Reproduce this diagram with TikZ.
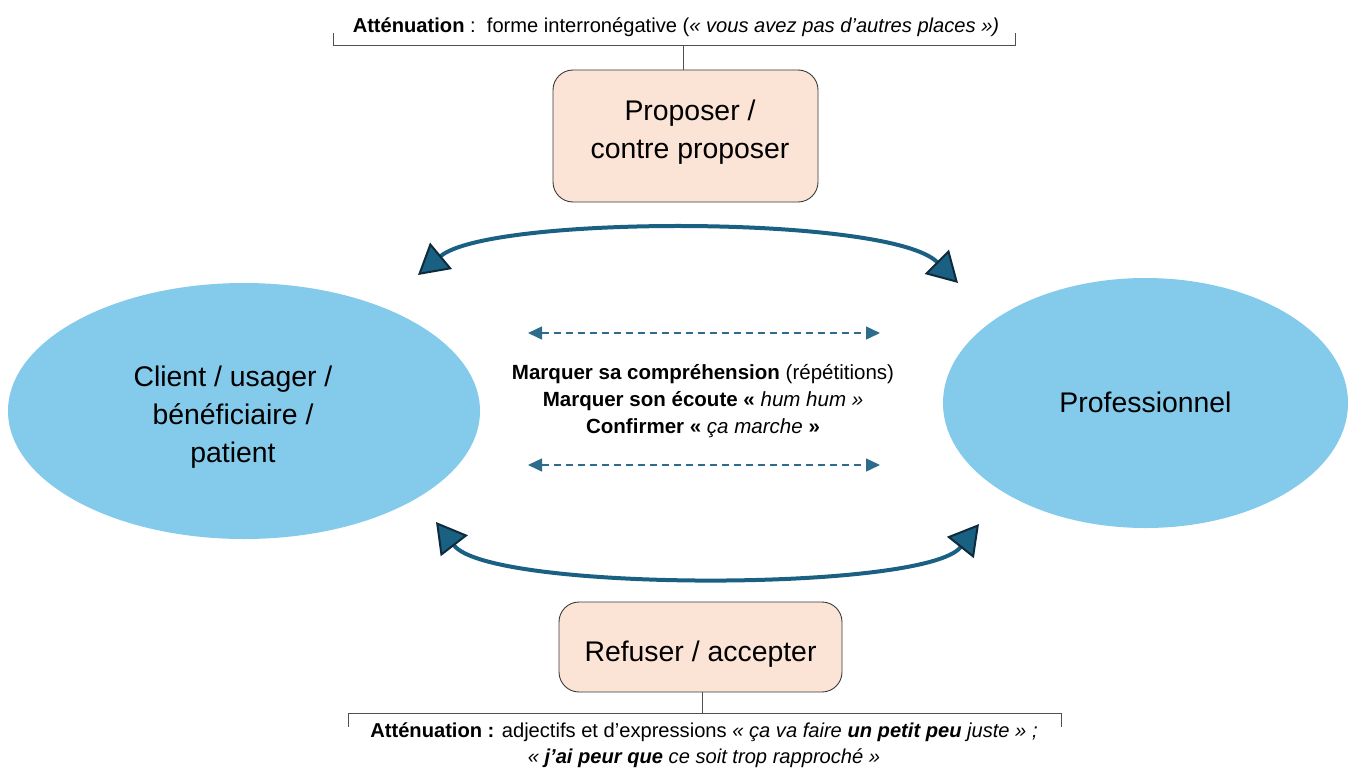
\documentclass[tikz,border=0pt]{standalone}
\usepackage{fontspec}
\setmainfont{Liberation Sans}
\usetikzlibrary{arrows.meta,shapes.geometric}

\definecolor{skyfill}{HTML}{83CAEB}
\definecolor{peach}{HTML}{FBE3D6}
\definecolor{boxline}{HTML}{3A3A3A}
\definecolor{arcblue}{HTML}{1A6082}
\definecolor{arcdark}{HTML}{0F2B3B}
\definecolor{dashblue}{HTML}{2E6C8E}
\definecolor{bracketgray}{HTML}{505050}

\tikzset{
  pbox/.style={draw=boxline, line width=0.9bp, fill=peach, rounded corners=20bp,
    inner sep=0pt},
  boxtext/.style={align=center, font=\fontsize{28.5}{38}\selectfont, inner sep=0pt},
  actor/.style={ellipse, fill=skyfill, draw=none, inner sep=0pt},
  bigarc/.style={draw=arcblue, line width=4bp,
    {Triangle[length=30bp,width=34bp,fill=arcblue,color=arcdark,line width=2bp]}-{Triangle[length=30bp,width=34bp,fill=arcblue,color=arcdark,line width=2bp]}},
  dasharrow/.style={draw=dashblue, line width=1.4bp, dash pattern=on 7bp off 5bp,
    {Triangle[length=14bp,width=13bp]}-{Triangle[length=14bp,width=13bp]}},
  bracket/.style={draw=bracketgray, line width=1bp},
  note/.style={align=center, font=\fontsize{20.2}{26}\selectfont, inner sep=0pt},
  midtext/.style={align=center, font=\fontsize{20.6}{27.5}\selectfont, inner sep=0pt}
}

\begin{document}
\begin{tikzpicture}[x=1bp, y=-1bp]
\useasboundingbox (0,0) rectangle (1349,767);

% the two parties
\node[actor, minimum width=472bp, minimum height=256bp] (client) at (244,411) {};
\node[boxtext] (clientlabel) at (233,417) {Client / usager /\\bénéficiaire /\\patient};
\node[actor, minimum width=405bp, minimum height=250bp] (pro) at (1145.5,403) {};
\node[boxtext] (prolabel) at (1145.5,402) {Professionnel};

% proposal boxes
\node[pbox, minimum width=265bp, minimum height=132bp] (prop) at (685.5,136) {};
\node[boxtext] (proplabel) at (690,132) {Proposer /\\contre proposer};
\node[pbox, minimum width=283bp, minimum height=90bp] (refus) at (700.5,647) {};
\node[boxtext] (refuslabel) at (700.5,654) {Refuser / accepter};

% upper bracket and its note
\coordinate (topbr) at (683,46);
\draw[bracket] (333,33) -- (333,46) -- (1015,46) -- (1015,33);
\draw[bracket] (topbr) -- (topbr |- prop.north);
\node[note] (topnote) at (676,27)
  {\textbf{Atténuation} :\ \ forme interronégative (\textit{« vous avez pas d’autres places »)}};

% lower bracket and its note
\coordinate (botbr) at (702,713);
\draw[bracket] (348,727) -- (348,713) -- (1061,713) -- (1061,727);
\draw[bracket] (botbr |- refus.south) -- (botbr);
\node[note] (botnote) at (704,745)
  {\textbf{Atténuation :} adjectifs et d’expressions \textit{« ça va faire \textbf{un petit peu} juste » ;}\\
   \textit{« \textbf{j’ai peur que} ce soit trop rapproché »}};

% exchange arcs
\coordinate (tl) at (418,275);
\coordinate (tr) at (958,283);
\coordinate (bl) at (436,522);
\coordinate (br) at (979,524);
\draw[bigarc] (tl) .. controls (490,215) and (890,215) .. (tr);
\draw[bigarc] (bl) .. controls (490,592) and (925,592) .. (br);

% feedback markers
\node[midtext] (mid) at (703,401)
  {\textbf{Marquer sa compréhension} (répétitions)\\
   \textbf{Marquer son écoute «} \textit{hum hum »}\\
   \textbf{Confirmer «} \textit{ça marche} \textbf{»}};
\coordinate (d1l) at (528,333);
\coordinate (d1r) at (880,333);
\coordinate (d2l) at (528,465);
\coordinate (d2r) at (880,465);
\draw[dasharrow] (d1l) -- (d1r);
\draw[dasharrow] (d2l) -- (d2r);
\end{tikzpicture}
\end{document}
